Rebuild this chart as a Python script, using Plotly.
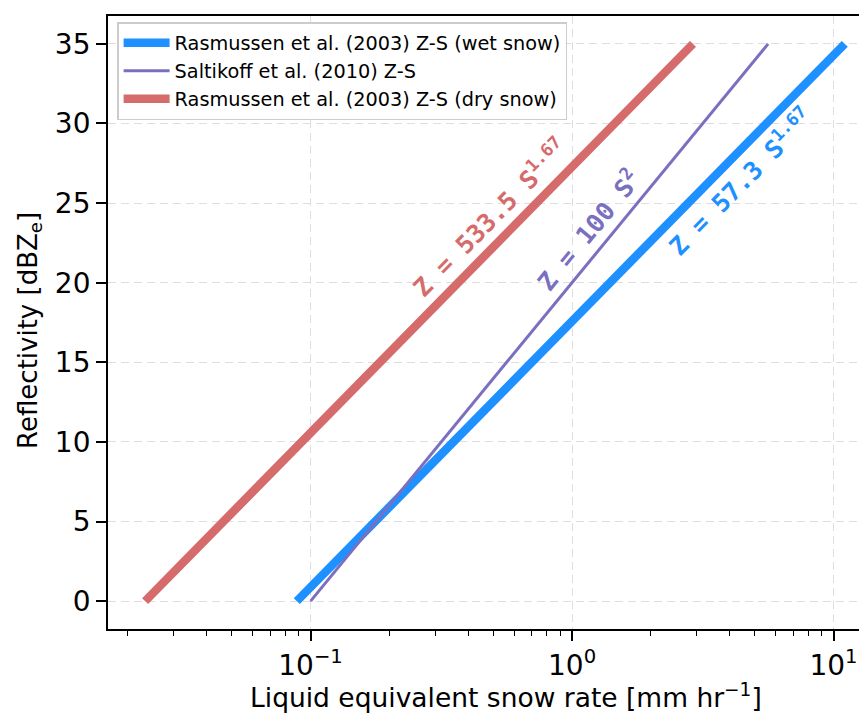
import plotly.graph_objects as go

# ---- data ----
dbz_ends = [0, 35]
wet_rate = [0.0886, 11.04]      # Rasmussen et al. (2003) wet snow, Z = 57.3 S^1.67
salt_rate = [0.1, 5.62]         # Saltikoff et al. (2010), Z = 100 S^2
dry_rate = [0.0233, 2.90]       # Rasmussen et al. (2003) dry snow, Z = 533.5 S^1.67

series_names = ["Rasmussen et al. (2003) Z-S (wet snow)",
                "Saltikoff et al. (2010) Z-S",
                "Rasmussen et al. (2003) Z-S (dry snow)"]
series_colors = ["#1e90ff", "#7b6fbf", "#d66b6b"]

x_tickvals = [0.1, 1, 10]
x_ticktext = ["10<sup>−1</sup>", "10<sup>0</sup>", "10<sup>1</sup>"]
y_tickvals = [0, 5, 10, 15, 20, 25, 30, 35]

x_title = "Liquid equivalent snow rate [mm hr<sup>−1</sup>]"
y_title = "Reflectivity [dBZ<sub>e</sub>]"

FONT = "DejaVu Sans"
MONO = "DejaVu Sans Mono"

fig = go.Figure()
for rate, name, col, w in zip([wet_rate, salt_rate, dry_rate], series_names,
                              series_colors, [8.5, 3, 8.5]):
    fig.add_trace(go.Scatter(x=rate, y=dbz_ends, mode="lines", name=name,
                             line=dict(color=col, width=w)))

minor_vals = [m * 10 ** e for e in (-2, -1, 0, 1) for m in range(2, 10)]

grid_kw = dict(showgrid=True, gridcolor="#dedede", griddash="8px,5px", gridwidth=1.4)

# the page body adds an 8px offset, so the figure is sized 8px smaller
fig.update_layout(
    width=859, height=713,
    margin=dict(l=100, r=0, t=8, b=92),
    paper_bgcolor="white", plot_bgcolor="white",
    font=dict(family=FONT, size=28, color="black"),
    showlegend=True,
    legend=dict(x=0.012, y=0.99, xanchor="left", yanchor="top",
                bgcolor="rgba(255,255,255,0.8)", bordercolor="#cccccc",
                borderwidth=1.5, font=dict(family=FONT, size=19.3, color="black"),
                itemwidth=46, tracegroupgap=0),
    xaxis=dict(type="log", range=[-1.7747, 1.128], automargin=False,
               tickvals=x_tickvals, ticktext=x_ticktext,
               ticks="outside", ticklen=10, tickwidth=1.6, tickcolor="black",
               showline=True, linecolor="black", linewidth=1.8, mirror=True,
               zeroline=False, **grid_kw,
               minor=dict(tickvals=minor_vals, ticks="outside", ticklen=5,
                          tickwidth=1.2, tickcolor="black", showgrid=False)),
    yaxis=dict(range=[-1.75, 36.75], tickvals=y_tickvals, automargin=False,
               ticks="outside", ticklen=10, tickwidth=1.6, tickcolor="black",
               showline=True, linecolor="black", linewidth=1.8, mirror=False,
               zeroline=False, **grid_kw),
)

# axis titles (the reference axes extend past the cropped right edge,
# so the x title sits right of the visible plot centre)
fig.add_annotation(text=x_title, xref="paper", yref="paper", x=0.524, y=-0.11,
                   xanchor="center", yanchor="middle", showarrow=False,
                   font=dict(family=FONT, size=26.5, color="black"))
fig.add_annotation(text=y_title, xref="paper", yref="paper", x=-0.1035, y=0.487,
                   xanchor="center", yanchor="middle", showarrow=False,
                   textangle=-90, font=dict(family=FONT, size=26, color="black"))

ann = [
    ("Z = 533.5 S<sup>1.67</sup>", -0.3154, 24.1, -45.4, series_colors[2]),
    ("Z = 100 S<sup>2</sup>", 0.0626, 23.35, -50.6, series_colors[1]),
    ("Z = 57.3 S<sup>1.67</sup>", 0.643, 26.37, -45.4, series_colors[0]),
]
for text, x, y, ang, col in ann:
    fig.add_annotation(x=x, y=y, xref="x", yref="y", text="<b>" + text + "</b>",
                       showarrow=False, textangle=ang, xanchor="center",
                       yanchor="middle",
                       font=dict(family=MONO, size=25, color=col))

fig.write_html("out.html")
